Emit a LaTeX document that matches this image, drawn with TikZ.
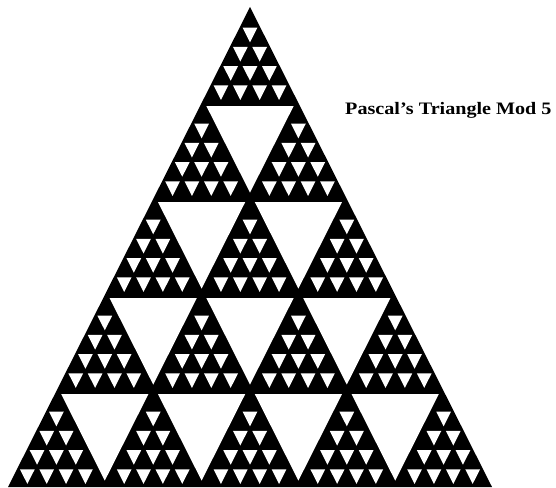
\documentclass[tikz,border=0pt]{standalone}
\usepackage{fontspec}
\setmainfont{Liberation Serif}
\tikzset{
  hole/.pic={\fill[white] (-0.5,1/3) -- (0.5,1/3) -- (0,-2/3) -- cycle;},
  title/.style={font=\bfseries\fontsize{17.5}{19}\selectfont, anchor=base west,
    inner sep=0pt, xscale=1.15, transform shape}
}
\newcommand\cw{19.36}
\newcommand\ch{19.2}
% white hole of size #3 whose top row is #1, left place #2, kept #4 of its size
\newcommand\hole[4]{%
  \pic[xscale={(#3)*\cw*#4}, yscale={(#3)*\ch*#4}] at
    ({250+((#2)+(#3)/2-(#1)/2)*\cw}, {480-((#1)+(#3)/3)*\ch}) {hole};}

\begin{document}
\begin{tikzpicture}[x=1pt, y=1pt]
  \useasboundingbox (0,0) rectangle (556,487);
  % corners
  \coordinate (apex) at (250,480);
  \coordinate (bl) at (8,0);
  \coordinate (br) at (492,0);
  \fill (apex) -- (bl) -- (br) -- cycle;
  % big holes between the blocks
  \foreach \R in {1,...,4} {
    \pgfmathtruncatemacro\last{\R-1}
    \foreach \J in {0,...,\last} {
      \hole{5*\R}{5*\J}{5}{0.9}
    }
  }
  % small holes inside each block
  \foreach \R in {0,...,4} {
    \foreach \K in {0,...,\R} {
      \foreach \i in {1,...,4} {
        \pgfmathtruncatemacro\jlast{\i-1}
        \foreach \j in {0,...,\jlast} {
          \hole{5*\R+\i}{5*\K+\j}{1}{0.76}
        }
      }
    }
  }
  \node[title] (name) at (345,372) {Pascal's Triangle Mod 5};
\end{tikzpicture}
\end{document}
